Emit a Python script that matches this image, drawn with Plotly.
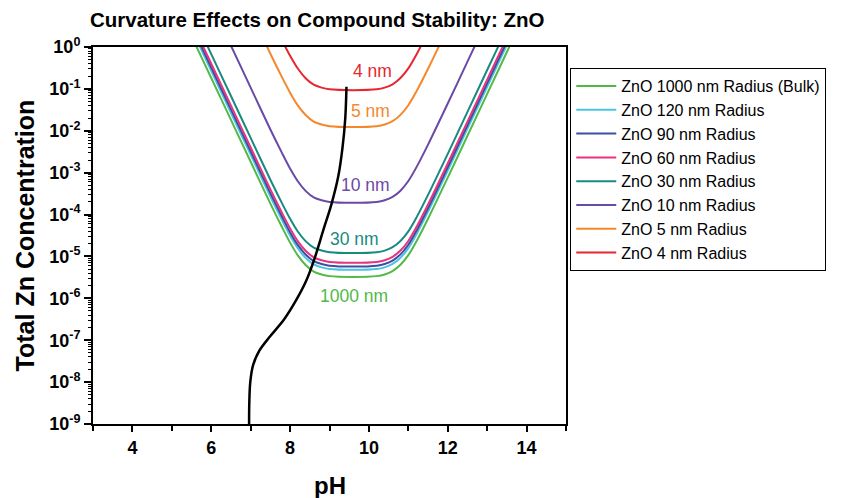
import numpy as np
import plotly.graph_objects as go

# ---------------- data ----------------
ph_grid = [5.0, 5.5, 6.0, 6.5, 7.0, 7.5, 7.8, 8.0, 8.2, 8.4, 8.6, 8.8, 9.0, 9.6,
           10.2, 10.4, 10.6, 10.8, 11.0, 11.2, 11.5, 12.0, 12.5, 13.0, 13.5, 14.0]

# log10(total Zn concentration) for each radius
log_1000nm = [1.26, 0.26, -0.74, -1.74, -2.74, -3.74, -4.31, -4.67, -4.98, -5.21, -5.36, -5.43, -5.47, -5.49,
              -5.47, -5.43, -5.35, -5.20, -4.97, -4.65, -4.10, -3.12, -2.12, -1.12, -0.12, 0.88]
log_120nm = [1.43, 0.43, -0.57, -1.57, -2.57, -3.57, -4.14, -4.50, -4.81, -5.04, -5.19, -5.26, -5.30, -5.32,
             -5.30, -5.26, -5.18, -5.03, -4.80, -4.48, -3.93, -2.95, -1.95, -0.95, 0.05, 1.05]
log_90nm = [1.51, 0.51, -0.49, -1.49, -2.49, -3.49, -4.06, -4.42, -4.73, -4.96, -5.11, -5.18, -5.22, -5.24,
            -5.22, -5.18, -5.10, -4.95, -4.72, -4.40, -3.85, -2.87, -1.87, -0.87, 0.13, 1.13]
log_60nm = [1.60, 0.60, -0.40, -1.40, -2.40, -3.40, -3.97, -4.33, -4.64, -4.87, -5.02, -5.09, -5.13, -5.15,
            -5.13, -5.09, -5.01, -4.86, -4.63, -4.31, -3.76, -2.78, -1.78, -0.78, 0.22, 1.22]
log_30nm = [1.83, 0.83, -0.17, -1.17, -2.17, -3.17, -3.74, -4.10, -4.41, -4.64, -4.79, -4.86, -4.90, -4.92,
            -4.90, -4.86, -4.78, -4.63, -4.40, -4.08, -3.53, -2.55, -1.55, -0.55, 0.45, 1.45]
log_10nm = [3.03, 2.03, 1.03, 0.03, -0.97, -1.97, -2.54, -2.90, -3.21, -3.44, -3.59, -3.66, -3.70, -3.72,
            -3.70, -3.66, -3.58, -3.43, -3.20, -2.88, -2.33, -1.35, -0.35, 0.65, 1.65, 2.65]
log_5nm = [4.84, 3.84, 2.84, 1.84, 0.84, -0.16, -0.73, -1.09, -1.40, -1.63, -1.78, -1.85, -1.89, -1.91,
           -1.89, -1.85, -1.77, -1.62, -1.39, -1.07, -0.52, 0.46, 1.46, 2.46, 3.46, 4.46]
log_4nm = [5.72, 4.72, 3.72, 2.72, 1.72, 0.72, 0.15, -0.21, -0.52, -0.75, -0.90, -0.97, -1.01, -1.03,
           -1.01, -0.97, -0.89, -0.74, -0.51, -0.19, 0.36, 1.34, 2.34, 3.34, 4.34, 5.34]

# black trajectory curve
black_ph = [6.96, 6.965, 6.99, 7.06, 7.22, 7.50, 7.85, 8.15, 8.40, 8.62, 8.85, 9.05, 9.22, 9.33, 9.40, 9.43]
black_log = [-9.0, -8.5, -8.0, -7.6, -7.25, -6.90, -6.50, -6.05, -5.60, -5.05, -4.35, -3.75, -3.10, -2.40,
             -1.70, -0.95]

series_names = ["ZnO 1000 nm Radius (Bulk)", "ZnO 120 nm Radius", "ZnO 90 nm Radius", "ZnO 60 nm Radius",
                "ZnO 30 nm Radius", "ZnO 10 nm Radius", "ZnO 5 nm Radius", "ZnO 4 nm Radius"]
series_logs = [log_1000nm, log_120nm, log_90nm, log_60nm, log_30nm, log_10nm, log_5nm, log_4nm]
series_colors = ["#52b947", "#4cc4de", "#3b4ea3", "#e8337e", "#178a82", "#6a4aa6", "#f5872c", "#e6272f"]

label_texts = ["4 nm", "5 nm", "10 nm", "30 nm", "1000 nm"]
label_ph = [10.09, 10.04, 9.92, 9.63, 9.63]
label_log = [-0.57, -1.53, -3.29, -4.58, -5.94]
label_colors = ["#e6272f", "#f5872c", "#6a4aa6", "#178a82", "#52b947"]

x_tickvals = [4, 6, 8, 10, 12, 14]
y_exponents = [0, -1, -2, -3, -4, -5, -6, -7, -8, -9]

FONT = "Liberation Sans, Arial, sans-serif"

fig = go.Figure()

for name, logs, col in zip(series_names, series_logs, series_colors):
    fig.add_trace(go.Scatter(
        x=ph_grid, y=np.power(10.0, logs), mode="lines", name=name,
        line=dict(color=col, width=2, shape="spline", smoothing=0.8),
    ))

fig.add_trace(go.Scatter(
    x=black_ph, y=np.power(10.0, black_log), mode="lines", showlegend=False,
    line=dict(color="black", width=2.5, shape="spline", smoothing=1.0),
))

for t, xv, yv, c in zip(label_texts, label_ph, label_log, label_colors):
    fig.add_annotation(x=xv, y=yv, xref="x", yref="y", text=t, showarrow=False,
                       font=dict(family=FONT, size=17.5, color=c), xanchor="center", yanchor="middle")

# minor ticks for y (log) via an overlaid axis
minor_vals = []
for e in range(-9, 0):
    for k in range(2, 10):
        minor_vals.append(k * 10.0 ** e)

fig.add_trace(go.Scatter(x=[None], y=[None], yaxis="y2", showlegend=False, hoverinfo="skip"))

fig.update_layout(
    width=849, height=498,
    margin=dict(l=93, r=283, t=47, b=74, autoexpand=False),
    paper_bgcolor="white", plot_bgcolor="white",
    font=dict(family=FONT, color="black"),
    showlegend=True,
    legend=dict(x=1.009, y=0.944, xanchor="left", yanchor="top",
                bordercolor="black", borderwidth=1, bgcolor="white",
                font=dict(family=FONT, size=16, color="black"),
                itemwidth=40, tracegroupgap=0),
    xaxis=dict(range=[3, 15], tickvals=x_tickvals, ticktext=[str(v) for v in x_tickvals],
               showgrid=False, zeroline=False, showline=True, linecolor="black", linewidth=2,
               mirror=True, ticks="outside", ticklen=6, tickwidth=1.5, tickcolor="black",
               tickfont=dict(family=FONT, size=18, weight="bold"),
               minor=dict(ticks="outside", ticklen=5, tickwidth=1.5, tickcolor="black", dtick=1, showgrid=False)),
    yaxis=dict(type="log", range=[-9, 0],
               tickvals=[10.0 ** e for e in y_exponents],
               ticktext=["10<sup>%d</sup>" % e for e in y_exponents],
               showgrid=False, zeroline=False, showline=True, linecolor="black", linewidth=2,
               mirror=True, ticks="outside", ticklen=7, tickwidth=1.5, tickcolor="black",
               tickfont=dict(family=FONT, size=18, weight="bold")),
    yaxis2=dict(type="log", range=[-9, 0], overlaying="y", side="left", anchor="x",
                tickvals=minor_vals, ticktext=["" for _ in minor_vals],
                showgrid=False, zeroline=False, showline=False,
                ticks="outside", ticklen=4, tickwidth=1, tickcolor="black"),
)

fig.add_annotation(text="<b>Curvature Effects on Compound Stability: ZnO</b>", xref="paper", yref="paper",
                   x=-0.011, y=1.072, xanchor="left", yanchor="middle", showarrow=False,
                   font=dict(family=FONT, size=20.5, color="black"))
fig.add_annotation(text="<b>Total Zn Concentration</b>", xref="paper", yref="paper",
                   x=-0.144, y=0.5, xanchor="center", yanchor="middle", textangle=-90, showarrow=False,
                   font=dict(family=FONT, size=25, color="black"))
fig.add_annotation(text="<b>pH</b>", xref="paper", yref="paper",
                   x=0.5, y=-0.162, xanchor="center", yanchor="middle", showarrow=False,
                   font=dict(family=FONT, size=24, color="black"))

fig.write_html("out.html", config={"displayModeBar": False},
               post_script="document.body.style.margin='0';document.body.style.overflow='hidden';")
